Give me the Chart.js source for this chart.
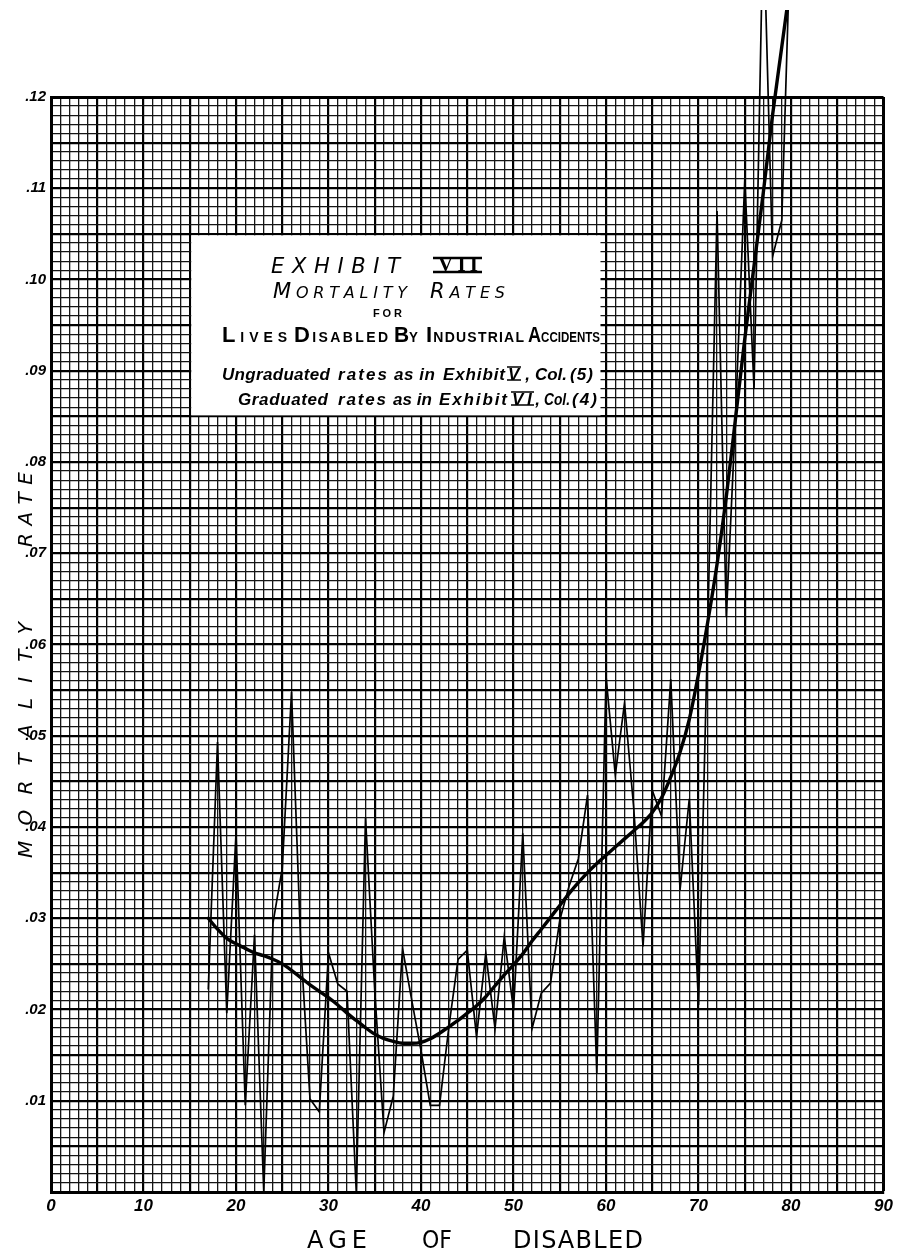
<!DOCTYPE html>
<html>
<head>
<meta charset="utf-8">
<title>Exhibit VII - Mortality Rates for Lives Disabled by Industrial Accidents</title>
<script src="https://cdn.jsdelivr.net/npm/chart.js@4.4.1/dist/chart.umd.min.js"></script>
<style>
  html, body { margin: 0; padding: 0; background: #fff; }
  #wrap { position: relative; width: 897px; height: 1251px; }
</style>
</head>
<body>
<div id="wrap"><canvas id="chart"></canvas></div>
<script>
var AGES = [17, 18, 19, 20, 21, 22, 23, 24, 25, 26, 27, 28, 29, 30, 31, 32, 33, 34, 35, 36, 37, 38, 39, 40,
  41, 42, 43, 44, 45, 46, 47, 48, 49, 50, 51, 52, 53, 54, 55, 56, 57, 58, 59, 60, 61, 62, 63, 64,
  65, 66, 67, 68, 69, 70, 71, 72, 73, 74, 75, 76, 77, 78, 79, 80];

// Exhibit V, Col. (5) — ungraduated (77 and 80 run off the top of the sheet)
var UNGRADUATED = [.0222, .0493, .0196, .0393, .0095, .0282, .0000, .0295, .0355, .0548, .0270, .0102,
  .0088, .0262, .0228, .0220, .0000, .0410, .0220, .0065, .0105, .0267, .0210, .0155,
  .0095, .0095, .0180, .0255, .0265, .0170, .0262, .0179, .0280, .0199, .0393, .0179,
  .0218, .0229, .0298, .0335, .0365, .0435, .0130, .0565, .0457, .0536, .0420, .0269,
  .0440, .0412, .0562, .0331, .0431, .0205, .0620, .1075, .0630, .0850, .1110, .0880,
  .1400, .1025, .1065, .1400];

// Exhibit VI, Col. (4) — graduated
var GRADUATED = [.0300, .0288, .0278, .0272, .0267, .0262, .0259, .0255, .0250, .0243, .0235, .0227,
  .0220, .0213, .0205, .0196, .0188, .0180, .0173, .0168, .0165, .0163, .0163, .0164,
  .0168, .0174, .0181, .0188, .0196, .0204, .0214, .0226, .0238, .0249, .0261, .0275,
  .0288, .0301, .0314, .0327, .0339, .0350, .0360, .0369, .0378, .0387, .0396, .0405,
  .0416, .0432, .0455, .0482, .0518, .0568, .0625, .0688, .0762, .0848, .0935, .1015,
  .1095, .1180, .1255, .1330];

var X_TICK_LABELS = ['0', '10', '20', '30', '40', '50', '60', '70', '80', '90'];
var Y_TICK_LABELS = ['.01', '.02', '.03', '.04', '.05', '.06', '.07', '.08', '.09', '.10', '.11', '.12'];

(function () {
  'use strict';
  var SANS = '"Liberation Sans", Arial, sans-serif';
  var DJ = '"DejaVu Sans", sans-serif';

  function pts(vals) { return AGES.map(function (a, i) { return { x: a, y: vals[i] }; }); }

  // spread chars of [[text, font], ...] evenly between x0 and x1 on a baseline (hand-lettering look)
  function spread(ctx, parts, x0, x1, base) {
    var chars = [];
    parts.forEach(function (p) {
      ctx.font = p[1];
      p[0].split('').forEach(function (ch) { chars.push({ c: ch, f: p[1], w: ctx.measureText(ch).width }); });
    });
    var w = chars.reduce(function (s, c) { return s + c.w; }, 0);
    var gap = chars.length > 1 ? (x1 - x0 - w) / (chars.length - 1) : 0, k = 1;
    if (gap < 0) { k = (x1 - x0) / w; gap = 0; }
    ctx.save(); ctx.translate(x0, base); ctx.scale(k, 1);
    var x = 0;
    chars.forEach(function (c) { ctx.font = c.f; ctx.fillText(c.c, x, 0); x += c.w + gap / k; });
    ctx.restore();
  }
  function bars(ctx, x0, x1, yT, yB, lw) {
    ctx.save(); ctx.lineWidth = lw; ctx.strokeStyle = '#000'; ctx.beginPath();
    ctx.moveTo(x0, yT); ctx.lineTo(x1, yT); ctx.moveTo(x0, yB); ctx.lineTo(x1, yB); ctx.stroke(); ctx.restore();
  }

  // white title panel + lettering, drawn over the grid paper
  var panel = {
    id: 'panel',
    beforeDatasetsDraw: function (ch) {
      var ctx = ch.ctx, x = ch.scales.x, y = ch.scales.y;
      var L = x.getPixelForValue(15) + 1.5, R = x.getPixelForValue(59.4), T = y.getPixelForValue(0.105) + 1.5, B = y.getPixelForValue(0.085) - 1;
      ctx.save();
      ctx.fillStyle = '#fff'; ctx.fillRect(L, T, R - L, B - T);
      ctx.fillStyle = '#000'; ctx.textBaseline = 'alphabetic'; ctx.textAlign = 'left';
      var big = 'italic 21px ' + DJ, sm = 'italic 16px ' + DJ;
      spread(ctx, [['EXHIBIT', 'italic 21px ' + DJ]], 271, 400, 273);
      spread(ctx, [['VII', 'bold 21px "Liberation Serif", serif']], 438, 478, 271);
      bars(ctx, 433, 482, 258, 272, 2.5);
      spread(ctx, [['M', big], ['ORTALITY', sm]], 273, 407, 298);
      spread(ctx, [['R', big], ['ATES', sm]], 430, 505, 298);
      spread(ctx, [['FOR', 'bold 11px ' + SANS]], 373, 402, 317);
      var capB = 'bold 22px ' + SANS, scB = 'bold 14px ' + SANS;
      spread(ctx, [['L', capB], ['IVES', scB]], 222, 287, 342);
      spread(ctx, [['D', capB], ['ISABLED', scB]], 294, 388, 342);
      spread(ctx, [['B', capB], ['Y', scB]], 394, 418, 342);
      spread(ctx, [['I', capB], ['NDUSTRIAL', scB]], 426, 524, 342);
      spread(ctx, [['A', capB], ['CCIDENTS', scB]], 528, 600, 342);
      var it = 'bold italic 17px ' + SANS;
      spread(ctx, [['Ungraduated', it]], 222, 330, 380);
      spread(ctx, [['rates', it]], 338, 387, 380);
      spread(ctx, [['as in', it]], 394, 435, 380);
      spread(ctx, [['Exhibit', it]], 443, 505, 380);
      spread(ctx, [['V,', it]], 508, 530, 380);
      bars(ctx, 507, 521, 367, 380, 1.5);
      spread(ctx, [['Col.', it]], 535, 567, 380);
      spread(ctx, [['(5)', it]], 570, 593, 380);
      spread(ctx, [['Graduated', it]], 238, 328, 405);
      spread(ctx, [['rates', it]], 338, 386, 405);
      spread(ctx, [['as in', it]], 393, 432, 405);
      spread(ctx, [['Exhibit', it]], 439, 507, 405);
      spread(ctx, [['VI,', it]], 512, 540, 405);
      bars(ctx, 511, 534, 392, 405, 1.5);
      spread(ctx, [['Col.', it]], 544, 570, 405);
      spread(ctx, [['(4)', it]], 572, 597, 405);
      ctx.restore();
    },
    afterDraw: function (ch) {
      var ctx = ch.ctx, f = '24px ' + DJ, fy = 'italic 20px ' + DJ;
      ctx.save(); ctx.fillStyle = '#000'; ctx.textBaseline = 'alphabetic';
      spread(ctx, [['AGE', f]], 307, 367, 1248);
      spread(ctx, [['OF', f]], 422, 452, 1248);
      spread(ctx, [['DISABLED', f]], 513, 643, 1248);
      ctx.translate(32, 0); ctx.rotate(-Math.PI / 2);
      spread(ctx, [['MORTALITY', fy]], -858, -622, 0);
      spread(ctx, [['RATE', fy]], -547, -472, 0);
      ctx.restore();
    }
  };

  function gridW(c, major, edge) {
    if (!c.tick) return 1;
    return edge(c.tick.value) ? 3 : (major(c.tick.value) ? 2.2 : 1.3);
  }

  new Chart(document.getElementById('chart').getContext('2d'), {
    type: 'line',
    data: {
      datasets: [
        { label: 'Ungraduated', data: pts(UNGRADUATED), borderColor: '#000', borderWidth: 1.7, pointRadius: 0,
          tension: 0, borderJoinStyle: 'miter', clip: { left: 10, top: 87, right: 10, bottom: 10 } },
        { label: 'Graduated', data: pts(GRADUATED), borderColor: '#000', borderWidth: 3.4, pointRadius: 0,
          cubicInterpolationMode: 'monotone', borderCapStyle: 'round', clip: { left: 10, top: 87, right: 10, bottom: 10 } }
      ]
    },
    options: {
      responsive: true, maintainAspectRatio: false, animation: false, devicePixelRatio: 1,
      layout: { padding: { top: 97, right: 11, left: 0, bottom: 0 } },
      plugins: { legend: { display: false }, tooltip: { enabled: false } },
      scales: {
        x: {
          type: 'linear', min: 0, max: 90,
          afterFit: function (s) { s.height = 59; },
          border: { display: true, color: '#000', width: 3 },
          grid: {
            drawTicks: false,
            color: function (c) { return c.tick && Math.round(c.tick.value) % 5 === 0 ? '#000' : '#141414'; },
            lineWidth: function (c) { return gridW(c, function (v) { return Math.round(v) % 5 === 0; }, function (v) { return v === 90; }); }
          },
          ticks: {
            stepSize: 1, autoSkip: false, maxRotation: 0, padding: 4, color: '#000',
            font: { family: SANS, size: 17, style: 'italic', weight: 'bold' },
            callback: function (v) { return v % 10 === 0 ? X_TICK_LABELS[v / 10] : ''; }
          }
        },
        y: {
          type: 'linear', min: 0, max: 0.12,
          afterFit: function (s) { s.width = 51; },
          border: { display: true, color: '#000', width: 3 },
          grid: {
            drawTicks: false,
            color: function (c) { return c.tick && Math.round(c.tick.value * 1000) % 5 === 0 ? '#000' : '#141414'; },
            lineWidth: function (c) { return gridW(c, function (v) { return Math.round(v * 1000) % 5 === 0; }, function (v) { return Math.round(v * 1000) === 120; }); }
          },
          ticks: {
            stepSize: 0.001, autoSkip: false, padding: 5, color: '#000',
            font: { family: SANS, size: 15, style: 'italic', weight: 'bold' },
            callback: function (v) { var n = Math.round(v * 1000); return (n % 10 === 0 && n > 0) ? Y_TICK_LABELS[n / 10 - 1] : ''; }
          }
        }
      }
    },
    plugins: [panel]
  });
})();
</script>
</body>
</html>
